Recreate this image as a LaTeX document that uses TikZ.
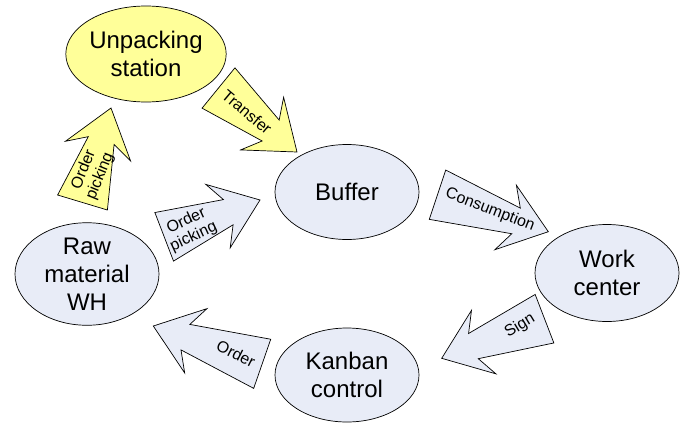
\documentclass[tikz,border=0pt]{standalone}
\usepackage{fontspec}
\setmainfont{Liberation Sans}
\usetikzlibrary{calc,shapes.geometric}
\definecolor{ylw}{HTML}{FFFF99}
\definecolor{lblue}{HTML}{E8ECF7}
\tikzset{
  station/.style={ellipse, draw=black, line width=0.7pt, minimum width=144pt,
    minimum height=95pt, inner sep=0pt, align=center,
    font=\fontsize{24}{28}\selectfont},
  blockarrow/.style={draw=black, line width=0.7pt, line join=miter},
  arrlabel/.style={font=\fontsize{16}{17.5}\selectfont, align=center, inner sep=0pt},
}
% #1 fill colour, #2 tail coordinate name, #3 tip coordinate name
\newcommand\blockarr[3]{%
  \coordinate (#2n) at ($(#3)!34pt!(#2)$);
  \coordinate (#2b) at ($(#3)!45pt!(#2)$);
  \draw[blockarrow, fill=#1]
    (#3)
    -- ($(#2b)!34pt!90:(#3)$)
    -- ($(#2n)!13.5pt!90:(#3)$)
    -- ($(#2)!26pt!90:(#3)$)
    -- ($(#2)!26pt!-90:(#3)$)
    -- ($(#2n)!13.5pt!-90:(#3)$)
    -- ($(#2b)!34pt!-90:(#3)$)
    -- cycle;
}
\begin{document}
\begin{tikzpicture}[x=1pt,y=-1pt]
  \useasboundingbox[fill=white] (0,0) rectangle (687,423);

  % stations
  \node[station, fill=ylw, minimum width=158pt, minimum height=96pt] (unpack) at (146,54) {Unpacking\\station};
  \node[station, fill=lblue] (buffer) at (347,192) {Buffer};
  \node[station, fill=lblue, minimum height=96pt] (raw) at (87,274) {Raw\\material\\WH};
  \node[station, fill=lblue, minimum height=97pt] (work) at (607,273) {Work\\center};
  \node[station, fill=lblue, minimum height=94pt] (kanban) at (347,375) {Kanban\\control};

  % arrow tails and tips
  \coordinate (ta) at (82.5,202.5);  \coordinate (pa) at (111,108);
  \coordinate (tb) at (218.5,88);    \coordinate (pb) at (297,152);
  \coordinate (tc) at (164.2,236.8); \coordinate (pc) at (260,200);
  \coordinate (td) at (437.5,194.7); \coordinate (pd) at (548.3,231.7);
  \coordinate (te) at (544.5,318.7); \coordinate (pe) at (441.7,358.3);
  \coordinate (tf) at (262.2,363.8); \coordinate (pf) at (153.3,326);

  \blockarr{ylw}{ta}{pa}
  \blockarr{ylw}{tb}{pb}
  \blockarr{lblue}{tc}{pc}
  \blockarr{lblue}{td}{pd}
  \blockarr{lblue}{te}{pe}
  \blockarr{lblue}{tf}{pf}

  % labels
  \node[arrlabel, rotate=68] (la) at (92,173) {Order\\picking};
  \node[arrlabel, rotate=-40] (lb) at (247,112) {Transfer};
  \node[arrlabel, rotate=25] (lc) at (190,229) {Order\\picking};
  \node[arrlabel, rotate=-21] (ld) at (490,210) {Consumption};
  \node[arrlabel, rotate=31] (le) at (520,326) {Sign};
  \node[arrlabel, rotate=-27] (lf) at (236,354) {Order};
\end{tikzpicture}
\end{document}
